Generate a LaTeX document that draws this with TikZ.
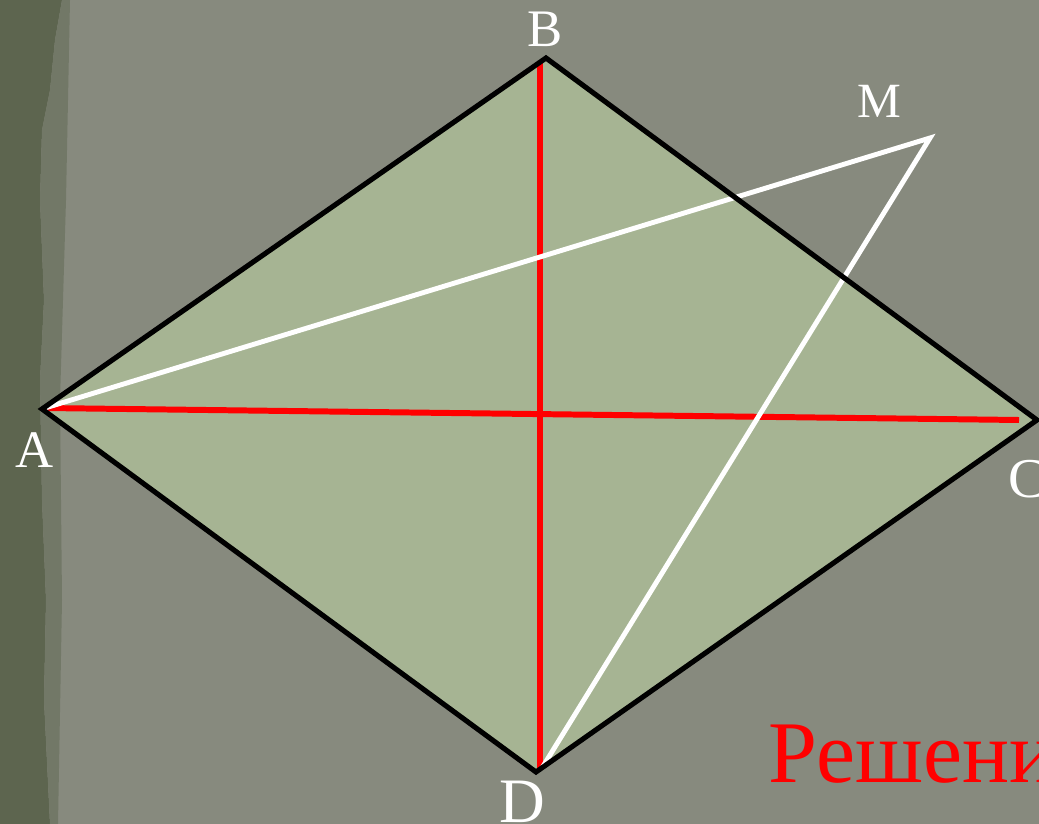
\documentclass[tikz,border=0pt]{standalone}
\usepackage{fontspec}
\setmainfont{Liberation Serif}
\usetikzlibrary{positioning,calc}

\definecolor{bgGray}{HTML}{878A7E}
\definecolor{bgDark}{HTML}{5D654F}
\definecolor{rhombFill}{HTML}{A6B493}

\begin{document}
\begin{tikzpicture}[
    x=0.01cm, y=-0.01cm,
    side/.style={draw=black, line width=1.45pt, line join=miter},
    diag/.style={draw=red, line width=1.7pt},
    aux/.style={draw=white, line width=1.4pt, line join=miter},
    vlabel/.style={text=white, anchor=base, inner sep=0pt},
    title/.style={text=red, anchor=base west, inner sep=0pt, font=\fontsize{25}{30}\selectfont},
]

% Background
\useasboundingbox (0,0) rectangle (1039,824);
\clip (0,0) rectangle (1039,824);
\fill[bgGray] (0,0) rectangle (1039,824);
\fill[bgDark] (0,0) -- (62,0) -- (55,40) -- (50,90) -- (42,130) -- (40,200) -- (44,300)
  -- (40,380) -- (42,500) -- (46,600) -- (44,700) -- (50,824) -- (0,824) -- cycle;
\fill[bgDark!50!bgGray] (50,824) -- (44,700) -- (46,600) -- (42,500) -- (40,380) -- (44,300)
  -- (40,200) -- (42,130) -- (50,90) -- (55,40) -- (62,0) -- (70,0) -- (66,200) -- (60,400)
  -- (62,600) -- (58,824) -- cycle;

% Vertices
\coordinate (A) at (42,409);
\coordinate (B) at (546,58);
\coordinate (C) at (1037,420);
\coordinate (D) at (536,772);
\coordinate (M) at (930,138);

% Rhombus
\fill[rhombFill] (A) -- (B) -- (C) -- (D) -- cycle;

% Diagonals
\coordinate (a1) at (45,408);
\coordinate (c1) at (1019,420);
\coordinate (b1) at (540,63);
\coordinate (d1) at (540,768);
\draw[diag] (a1) -- (c1);
\draw[diag] (b1) -- (d1);

% Lines to M
\coordinate (d2) at (542,768);
\draw[aux] (a1) -- (M) -- (d2);

\draw[side] (A) -- (B) -- (C) -- (D) -- cycle;

% Labels
\node[vlabel, font=\fontsize{15}{18}\selectfont] (lB) at (545,47) {B};
\node[vlabel, font=\fontsize{14}{17}\selectfont] (lM) at (879,117) {M};
\node[vlabel, font=\fontsize{15}{18}\selectfont] (lA) at (35,467) {A};
\node[vlabel, font=\fontsize{16}{19}\selectfont, anchor=base west] (lC) at (1008,497) {C};
\node[vlabel, font=\fontsize{18}{22}\selectfont] (lD) at (522,822) {D};

\node[title] (sol) at (768,782) {Решени};

\end{tikzpicture}
\end{document}
